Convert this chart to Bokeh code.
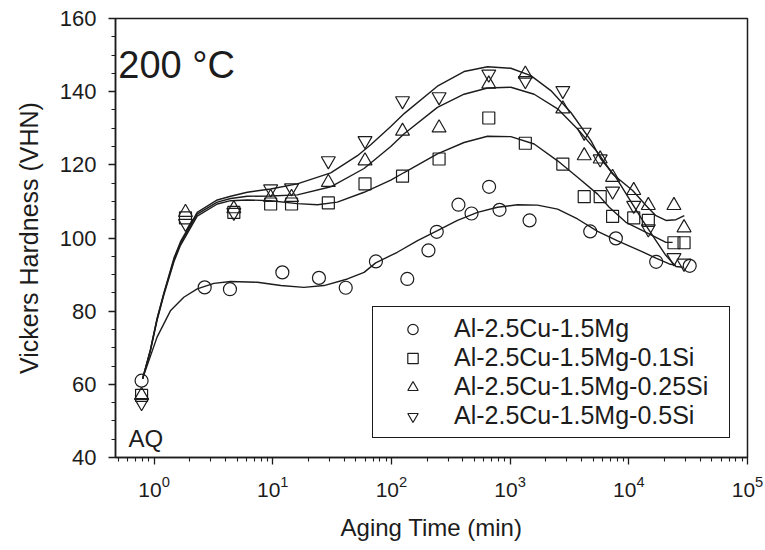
from bokeh.plotting import figure
from bokeh.models import Range1d, FixedTicker, SingleIntervalTicker, Label, Legend, LegendItem
from bokeh.embed import file_html
from bokeh.resources import INLINE

# ---------------- data ----------------
time_mg = [0.785, 2.67, 4.36, 12.05, 24.5, 41.2, 74, 136, 205, 241, 367, 473, 665, 814, 1458, 4730, 7780, 17000, 32600]
hv_mg = [61, 86.5, 86, 90.6, 89.1, 86.4, 93.6, 88.8, 96.6, 101.7, 109.1, 106.7, 114.0, 107.7, 104.8, 101.8, 99.9, 93.5, 92.4]

time_si = [0.785, 1.84, 4.7, 9.6, 14.4, 29.4, 59.9, 124, 252, 661, 1343, 2780, 4210, 5740, 7300, 11000, 14600, 24000, 29200]
hv_01si = [57, 105.5, 107, 109.3, 109.3, 109.6, 114.8, 116.9, 121.6, 132.8, 125.9, 120.2, 111.3, 111.3, 105.9, 105.5, 104.8, 98.7, 98.7]
hv_025si = [57, 107, 108, 111.1, 111.1, 115.2, 121.1, 129.2, 130.1, 142.1, 144.8, 135.3, 122.5, 121.6, 116.6, 113, 108.9, 108.9, 102.8]
hv_05si = [55, 104, 107, 113.4, 113.7, 121.1, 126.6, 137.5, 138.6, 144.8, 143, 140.3, 128.9, 121.6, 112.8, 108.9, 102.5, 94.6, 93.1]

# fitted curves
fit_mg_x = [0.8, 1.06, 1.38, 1.78, 2.31, 3.19, 4.42, 7.42, 11.7, 18.3, 27, 42.6, 58.8, 73.7, 112, 166, 244, 360, 531, 783,
            1155, 1702, 2512, 3700, 5458, 8047, 13070, 16930, 21930, 24950]
fit_mg_y = [61.5, 72.9, 80.2, 83.8, 86.1, 87.6, 88.1, 87.9, 87.0, 86.5, 87.0, 88.8, 90.6, 93.2, 96.1, 99.3, 102.0, 104.8, 107.0, 108.4,
            109.1, 109.0, 107.9, 105.2, 101.8, 99.2, 96.2, 94.5, 92.9, 92.5]

fit_01_x = [0.8, 0.93, 1.06, 1.21, 1.47, 1.67, 2.31, 3.41, 4.42, 6.1, 9.6, 16.1, 23.8, 35, 58.8, 98.7, 128, 244, 409, 645,
            1014, 1594, 2512, 3700, 5458, 6838, 9457, 13070, 16930, 20560, 23400]
fit_01_y = [61.5, 69.0, 77.5, 84.5, 93.5, 98.0, 106.0, 109.3, 110.2, 110.4, 110.2, 109.4, 109.1, 109.8, 112.5, 115.8, 117.9, 123.0, 126.1, 127.8,
            127.7, 125.7, 121.1, 116.6, 112.0, 108.4, 104.3, 102.0, 100.2, 98.8, 98.8]

fit_025_x = [0.8, 0.93, 1.06, 1.21, 1.47, 1.67, 2.31, 3.41, 4.42, 6.1, 9.6, 16.1, 30.8, 58.8, 98.7, 128, 244, 409, 645, 1014,
             1594, 2512, 3700, 5458, 7300, 10770, 14410, 16930, 20560, 24950, 29330]
fit_025_y = [61.5, 69.2, 77.8, 84.8, 94.0, 98.5, 106.5, 109.8, 110.8, 111.4, 111.5, 111.8, 114.0, 119.0, 125.0, 128.5, 135.7, 139.3, 141.0, 141.2,
             139.3, 135.3, 129.8, 123.4, 117.5, 113.0, 108.4, 106.1, 104.8, 105.0, 106.1]

fit_05_x = [0.8, 0.93, 1.06, 1.21, 1.47, 1.67, 2.31, 3.41, 4.42, 6.1, 9.6, 16.1, 30.8, 51.7, 66.9, 98.7, 128, 244, 409, 645,
            1014, 1495, 2203, 3251, 4794, 5818, 7788, 10080, 13070, 16930, 20560, 24950, 28430]
fit_05_y = [61.5, 69.4, 78.0, 85.0, 94.5, 99.0, 107.0, 110.4, 111.4, 112.5, 113.4, 114.8, 117.8, 122.5, 125.5, 130.5, 134.0, 141.5, 145.5, 146.8,
            146.4, 144.4, 140.3, 134.3, 126.6, 121.6, 116.6, 110.7, 104.8, 99.3, 95.2, 92.2, 92.0]

labels = ["Al-2.5Cu-1.5Mg", "Al-2.5Cu-1.5Mg-0.1Si", "Al-2.5Cu-1.5Mg-0.25Si", "Al-2.5Cu-1.5Mg-0.5Si"]
x_major = [1, 10, 100, 1000, 10000, 100000]

FONT = "Liberation Sans"
INK = "#1c1c1c"

p = figure(width=765, height=550, x_axis_type="log",
           x_range=Range1d(0.4733, 1e5), y_range=Range1d(40, 160),
           output_backend="svg", toolbar_location=None,
           min_border_left=115, min_border_right=18, min_border_top=18, min_border_bottom=93)
p.background_fill_color = "white"
p.border_fill_color = "white"
p.outline_line_color = INK
p.outline_line_width = 1.5
p.xgrid.visible = False
p.ygrid.visible = False

# curves
for fx, fy in [(fit_mg_x, fit_mg_y), (fit_01_x, fit_01_y), (fit_025_x, fit_025_y), (fit_05_x, fit_05_y)]:
    p.line(fx, fy, line_color=INK, line_width=1.4)

# markers
r_mg = p.scatter(time_mg, hv_mg, marker="circle", size=13, fill_color=None, line_color=INK, line_width=1.2)
r_01 = p.scatter(time_si, hv_01si, marker="square", size=12, fill_color=None, line_color=INK, line_width=1.2)
r_025 = p.scatter(time_si, hv_025si, marker="triangle", size=14, fill_color=None, line_color=INK, line_width=1.2)
r_05 = p.scatter(time_si, hv_05si, marker="inverted_triangle", size=14, fill_color=None, line_color=INK, line_width=1.2)

legend = Legend(items=[LegendItem(label=labels[0], renderers=[r_mg]),
                       LegendItem(label=labels[1], renderers=[r_01]),
                       LegendItem(label=labels[2], renderers=[r_025]),
                       LegendItem(label=labels[3], renderers=[r_05])],
                location=(257, 19), padding=7, spacing=0,
                glyph_width=65, glyph_height=26, label_standoff=9, label_width=268,
                label_text_font=FONT, label_text_font_size="25px", label_text_color=INK,
                border_line_color=INK, border_line_width=1.3, border_line_alpha=1.0,
                background_fill_color="white", background_fill_alpha=1.0, margin=0)
p.add_layout(legend)

# axes
xa = p.xaxis[0]
xa.ticker = FixedTicker(ticks=x_major,
                        minor_ticks=[m * 10.0 ** e for e in range(-1, 5) for m in range(2, 10)])
ya = p.yaxis[0]
ya.ticker = SingleIntervalTicker(interval=20, num_minor_ticks=4)

for ax in (xa, ya):
    ax.axis_line_color = INK
    ax.axis_line_width = 1.5
    ax.major_tick_line_color = INK
    ax.minor_tick_line_color = INK
    ax.major_tick_line_width = 1.3
    ax.minor_tick_line_width = 1.1
    ax.major_tick_in = 0
    ax.major_tick_out = 7
    ax.minor_tick_in = 0
    ax.minor_tick_out = 4
    ax.major_label_text_font = FONT
    ax.major_label_text_color = INK
    ax.axis_label_text_font = FONT
    ax.axis_label_text_font_style = "normal"
    ax.axis_label_text_color = INK

xa.axis_label = "Aging Time (min)"
xa.axis_label_text_font_size = "24px"
xa.major_label_text_font_size = "21px"
xa.major_label_standoff = 11
xa.axis_label_standoff = 14

ya.axis_label = "Vickers Hardness (VHN)"
ya.axis_label_text_font_size = "25px"
ya.major_label_text_font_size = "22px"
ya.major_label_standoff = 12
ya.axis_label_standoff = 14

p.add_layout(Label(x=0.5, y=147.2, text="200 °C", text_font=FONT, text_font_size="38px",
                   text_color=INK, text_baseline="alphabetic"))
p.add_layout(Label(x=0.61, y=45.2, text="AQ", text_font=FONT, text_font_size="24px",
                   text_color=INK, text_baseline="alphabetic"))

open("out.html", "w").write(file_html(p, INLINE))
